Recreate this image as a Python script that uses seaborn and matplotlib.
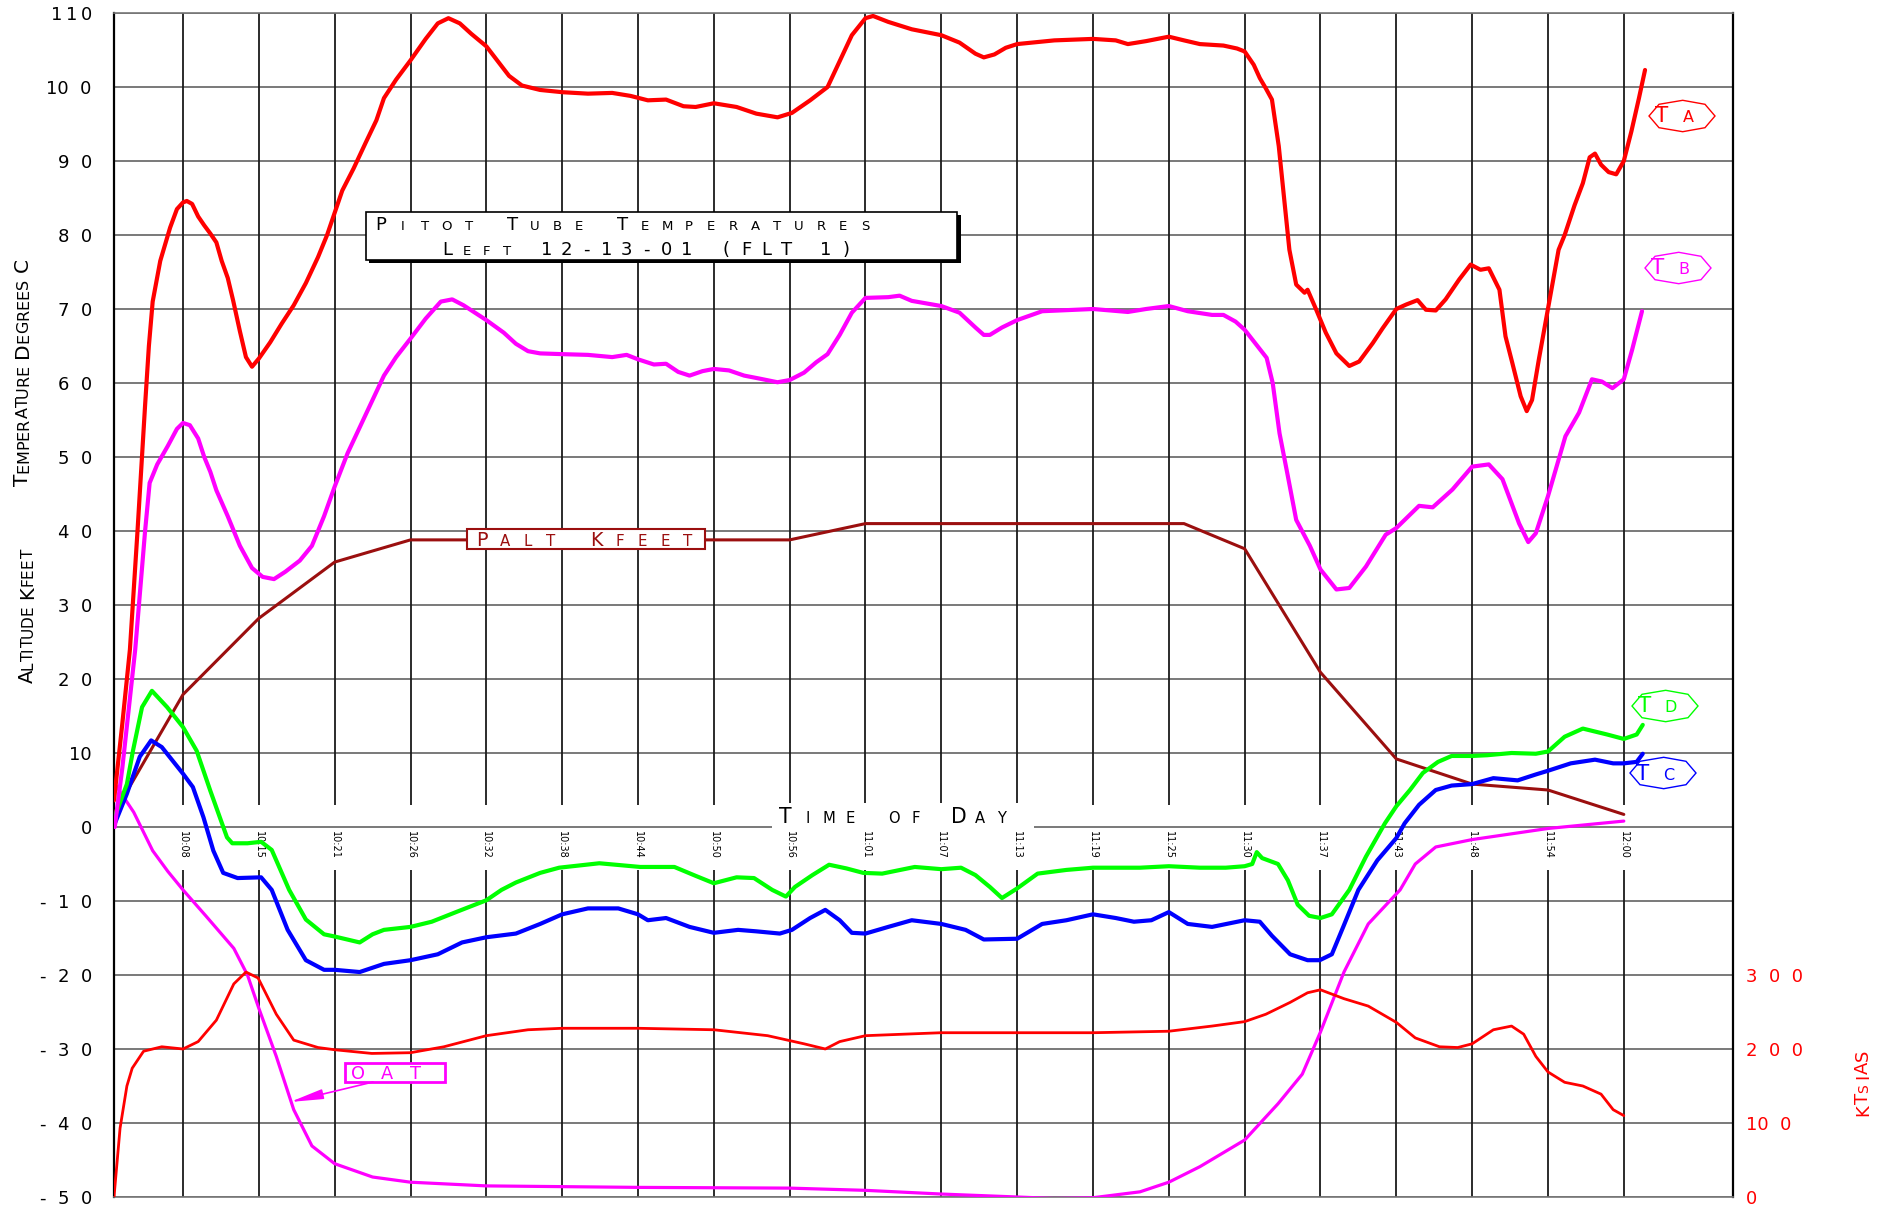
import matplotlib
matplotlib.use("Agg")
import numpy as np
import pandas as pd
import seaborn as sns
import matplotlib.pyplot as plt
from matplotlib.transforms import IdentityTransform
from matplotlib.patches import Rectangle, Polygon, FancyArrowPatch
from matplotlib.font_manager import FontProperties

# ---------------- data ----------------
time_labels = ["10:08", "10:15", "10:21", "10:26", "10:32", "10:38", "10:44", "10:50",
               "10:56", "11:01", "11:07", "11:13", "11:19", "11:25", "11:30", "11:37",
               "11:43", "11:48", "11:54", "12:00"]
time_pos = list(range(1, 21))

y_ticks = list(range(110, -51, -10))
y_tick_labels = ["1\u20091\u20090", "10  0", "9  0", "8  0", "7  0", "6  0", "5  0", "4  0",
                 "3  0", "2  0", "10", "0", "-  1  0", "-  2  0", "-  3  0", "-  4  0", "-  5  0"]
ias_ticks = [0, 100, 200, 300]
ias_tick_labels = ["0", "10  0", "2  0  0", "3  0  0"]

# T A (red)
ta_x = [0.09, 0.20, 0.30, 0.40, 0.50, 0.55, 0.60, 0.70, 0.83, 0.92,
        1.00, 1.05, 1.12, 1.20, 1.28, 1.36, 1.44, 1.51, 1.59, 1.66,
        1.75, 1.83, 1.91, 2.00, 2.15, 2.30, 2.46, 2.62, 2.78, 2.90,
        3.00, 3.10, 3.25, 3.41, 3.55, 3.65, 3.81, 4.00, 4.20, 4.36,
        4.50, 4.65, 4.80, 5.00, 5.15, 5.30, 5.47, 5.71, 6.00, 6.34,
        6.66, 6.90, 7.13, 7.37, 7.60, 7.76, 8.00, 8.30, 8.56, 8.84,
        9.03, 9.27, 9.50, 9.66, 9.82, 10.00, 10.10, 10.30, 10.61, 11.00,
        11.24, 11.45, 11.56, 11.70, 11.85, 12.00, 12.49, 13.00, 13.30, 13.46,
        13.70, 14.00, 14.20, 14.41, 14.72, 14.90, 15.00, 15.12, 15.20, 15.28,
        15.36, 15.45, 15.52, 15.59, 15.68, 15.79, 15.83, 15.94, 16.07, 16.21,
        16.38, 16.51, 16.69, 16.82, 17.00, 17.13, 17.28, 17.39, 17.52, 17.65,
        17.83, 17.98, 18.11, 18.22, 18.36, 18.44, 18.53, 18.64, 18.72, 18.79,
        18.88, 19.00, 19.14, 19.22, 19.35, 19.46, 19.55, 19.62, 19.70, 19.80,
        19.90, 20.00, 20.10, 20.20, 20.28]
ta_y = [3.6, 14, 24, 40, 57, 65, 71, 76.5, 81, 83.5,
        84.4, 84.6, 84.2, 82.5, 81.3, 80.2, 79, 76.5, 74.2, 71.2,
        67, 63.5, 62.2, 63.3, 65.5, 68, 70.5, 73.5, 77, 80,
        83, 86, 89, 92.5, 95.5, 98.5, 101, 103.6, 106.5, 108.6,
        109.3, 108.6, 107.2, 105.5, 103.5, 101.5, 100.2, 99.6, 99.3, 99.1,
        99.2, 98.8, 98.2, 98.3, 97.4, 97.3, 97.8, 97.3, 96.4, 95.9,
        96.5, 98.2, 100, 103.5, 107, 109.3, 109.6, 108.8, 107.8, 107,
        106, 104.5, 104, 104.4, 105.3, 105.8, 106.3, 106.5, 106.3, 105.8,
        106.2, 106.8, 106.3, 105.8, 105.6, 105.2, 104.8, 103, 101.2, 99.8,
        98.3, 92, 85, 78, 73.3, 72.2, 72.6, 70, 66.8, 64,
        62.3, 62.9, 65.4, 67.4, 70, 70.6, 71.2, 69.9, 69.8, 71.3,
        74, 76, 75.3, 75.5, 72.6, 66.3, 62.7, 58.2, 56.2, 57.7,
        63.2, 70, 78, 80, 84, 87, 90.5, 91, 89.5, 88.5,
        88.2, 90, 94, 98.5, 102.3]

# T B (magenta)
tb_x = [0.10, 0.20, 0.37, 0.50, 0.56, 0.66, 0.80, 0.92, 1.00, 1.09,
        1.20, 1.28, 1.36, 1.44, 1.59, 1.75, 1.91, 2.05, 2.20, 2.35,
        2.54, 2.70, 2.86, 3.00, 3.17, 3.33, 3.49, 3.65, 3.81, 4.00,
        4.20, 4.40, 4.55, 4.70, 5.00, 5.23, 5.39, 5.55, 5.71, 6.00,
        6.34, 6.66, 6.85, 7.00, 7.21, 7.37, 7.53, 7.68, 7.85, 8.00,
        8.20, 8.40, 8.60, 8.84, 9.00, 9.19, 9.35, 9.50, 9.66, 9.82,
        10.00, 10.30, 10.45, 10.61, 11.00, 11.24, 11.45, 11.56, 11.64, 11.80,
        12.00, 12.33, 13.00, 13.46, 13.70, 14.00, 14.25, 14.57, 14.72, 14.88,
        15.00, 15.13, 15.29, 15.37, 15.46, 15.57, 15.68, 15.86, 16.00, 16.21,
        16.38, 16.60, 16.86, 17.00, 17.30, 17.48, 17.74, 18.00, 18.22, 18.40,
        18.62, 18.74, 18.84, 19.00, 19.23, 19.41, 19.58, 19.71, 19.85, 20.00,
        20.11, 20.24]
tb_y = [0, 8, 24, 40, 46.5, 49, 51.5, 53.8, 54.6, 54.3,
        52.5, 50, 48, 45.5, 42, 38, 35, 33.8, 33.5, 34.5,
        36, 38, 42, 46, 50.5, 54, 57.5, 61, 63.5, 66,
        68.7, 71, 71.3, 70.5, 68.5, 66.8, 65.3, 64.3, 64.0, 63.9,
        63.8, 63.5, 63.8, 63.2, 62.5, 62.6, 61.5, 61.0, 61.6, 61.9,
        61.7, 61.0, 60.6, 60.1, 60.4, 61.4, 62.8, 63.9, 66.5, 69.5,
        71.5, 71.6, 71.8, 71.1, 70.4, 69.5, 67.5, 66.5, 66.5, 67.5,
        68.5, 69.7, 70.0, 69.6, 70.0, 70.4, 69.7, 69.2, 69.2, 68.3,
        67.2, 65.5, 63.4, 60, 53.2, 47.4, 41.5, 38, 34.8, 32.1,
        32.3, 35.2, 39.5, 40.4, 43.4, 43.2, 45.6, 48.7, 49, 47,
        41, 38.5, 39.7, 44.7, 52.8, 56, 60.5, 60.2, 59.3, 60.5,
        64.5, 69.7]

# T D (green)
td_x = [0.09, 0.26, 0.34, 0.46, 0.59, 0.79, 1.00, 1.18, 1.36, 1.58,
        1.65, 1.85, 2.03, 2.17, 2.40, 2.62, 2.86, 3.00, 3.33, 3.50,
        3.65, 4.00, 4.28, 4.60, 5.00, 5.20, 5.39, 5.71, 5.96, 6.49,
        7.03, 7.48, 7.76, 8.00, 8.30, 8.53, 8.77, 8.95, 9.07, 9.30,
        9.52, 9.75, 9.97, 10.22, 10.65, 11.00, 11.26, 11.45, 11.64, 11.80,
        12.00, 12.27, 12.65, 13.00, 13.62, 14.00, 14.41, 14.75, 15.00, 15.10,
        15.16, 15.23, 15.44, 15.57, 15.70, 15.85, 16.00, 16.15, 16.38, 16.60,
        16.85, 17.00, 17.18, 17.35, 17.55, 17.73, 18.00, 18.20, 18.52, 18.84,
        19.00, 19.22, 19.46, 19.78, 20.00, 20.17, 20.25]
td_y = [1.1, 5.8, 10.3, 16.2, 18.4, 16.2, 13.5, 10.3, 4.9, -1.4,
        -2.2, -2.2, -2.0, -3.1, -8.5, -12.5, -14.5, -14.8, -15.6, -14.5,
        -13.9, -13.5, -12.8, -11.5, -9.9, -8.5, -7.5, -6.2, -5.5, -4.9,
        -5.4, -5.4, -6.6, -7.6, -6.8, -6.9, -8.5, -9.4, -8.1, -6.5,
        -5.1, -5.6, -6.2, -6.3, -5.4, -5.7, -5.5, -6.5, -8.1, -9.6,
        -8.3, -6.3, -5.8, -5.5, -5.5, -5.3, -5.5, -5.5, -5.3, -5.0,
        -3.4, -4.2, -5.0, -7.2, -10.5, -12.0, -12.3, -11.8, -8.5, -4.0,
        0.5, 2.8, 5.0, 7.3, 8.8, 9.6, 9.6, 9.7, 10.0, 9.9,
        10.2, 12.2, 13.3, 12.5, 11.9, 12.5, 13.8]

# T C (blue)
tc_x = [0.09, 0.26, 0.43, 0.58, 0.72, 1.00, 1.13, 1.27, 1.40, 1.53,
        1.72, 2.03, 2.17, 2.38, 2.62, 2.86, 3.00, 3.33, 3.65, 4.00,
        4.36, 4.68, 5.00, 5.39, 5.71, 6.00, 6.34, 6.74, 7.00, 7.13,
        7.37, 7.68, 8.00, 8.32, 8.56, 8.87, 9.03, 9.27, 9.47, 9.66,
        9.82, 10.00, 10.30, 10.61, 11.00, 11.32, 11.56, 12.00, 12.33, 12.65,
        13.00, 13.30, 13.54, 13.77, 14.00, 14.25, 14.57, 15.00, 15.20, 15.36,
        15.60, 15.83, 15.99, 16.15, 16.30, 16.50, 16.75, 17.00, 17.11, 17.30,
        17.52, 17.73, 18.00, 18.28, 18.60, 18.84, 19.00, 19.30, 19.62, 19.86,
        20.00, 20.17, 20.25]
tc_y = [0.2, 4.5, 9.5, 11.7, 10.8, 7.2, 5.4, 1.3, -3.2, -6.2,
        -6.9, -6.8, -8.5, -13.9, -18.0, -19.3, -19.3, -19.6, -18.5, -18.0,
        -17.2, -15.6, -14.9, -14.4, -13.1, -11.8, -11.0, -11.0, -11.8, -12.6,
        -12.3, -13.5, -14.3, -13.9, -14.1, -14.4, -13.9, -12.3, -11.2, -12.6,
        -14.3, -14.4, -13.5, -12.6, -13.1, -13.9, -15.2, -15.1, -13.1, -12.6,
        -11.8, -12.3, -12.8, -12.6, -11.5, -13.1, -13.5, -12.6, -12.8, -14.7,
        -17.2, -18.0, -18.0, -17.2, -13.5, -8.5, -4.5, -1.5, 0.5, 3.0,
        5.0, 5.6, 5.8, 6.6, 6.3, 7.1, 7.6, 8.6, 9.1, 8.6,
        8.6, 8.8, 9.9]

# Pressure altitude (kfeet)
palt_x = [0.09, 1, 2, 3, 4, 9, 10, 14.2, 15, 16, 17, 18, 19, 20]
palt_y = [1.8, 17.9, 28.2, 35.8, 38.8, 38.8, 41.0, 41.0, 37.6, 20.9, 9.2, 5.8, 5.0, 1.7]

# Outside air temperature
oat_x = [0.09, 0.35, 0.6, 0.8, 1.0, 1.3, 1.67, 1.85, 2.0, 2.23,
         2.46, 2.70, 3.0, 3.5, 4.0, 5.0, 7.0, 9.0, 10.0, 11.0,
         12.0, 12.49, 13.0, 13.62, 14.0, 14.41, 15.0, 15.44, 15.76, 16.0,
         16.31, 16.63, 17.05, 17.25, 17.52, 18.0, 19.0, 20.0]
oat_y = [6, 2, -3.2, -6, -8.5, -12, -16.4, -20, -24.5, -31,
         -38.2, -43.1, -45.5, -47.3, -48, -48.5, -48.7, -48.8, -49.1, -49.6,
         -50.0, -50.2, -50.1, -49.3, -48, -45.9, -42.3, -37.4, -33.4, -27.7,
         -19.6, -13.1, -8.5, -5, -2.7, -1.7, -0.2, 0.8]

# Indicated air speed (knots, right axis)
ias_x = [0.09, 0.17, 0.26, 0.33, 0.48, 0.72, 1.00, 1.20, 1.44, 1.67,
         1.83, 1.99, 2.23, 2.46, 2.78, 3.00, 3.49, 4.00, 4.44, 5.00,
         5.55, 6.00, 7.00, 8.00, 8.71, 9.19, 9.47, 9.66, 10.00, 11.00,
         12.00, 13.00, 14.00, 14.57, 15.00, 15.28, 15.60, 15.83, 16.00, 16.31,
         16.63, 17.00, 17.25, 17.57, 17.81, 18.00, 18.28, 18.52, 18.68, 18.84,
         19.00, 19.22, 19.46, 19.70, 19.86, 20.00]
ias_v = [0, 93, 150, 174, 197, 203, 200, 210, 239, 288,
         304, 296, 247, 212, 202, 199, 194, 195, 203, 218,
         226, 228, 228, 226, 218, 207, 200, 210, 218, 222,
         222, 222, 224, 231, 237, 247, 263, 276, 280, 268,
         258, 236, 215, 203, 202, 207, 226, 231, 220, 190,
         169, 155, 150, 139, 118, 110]

# ---------------- style ----------------
RED, MAG, GRN, BLU, BRN = "#ff0000", "#ff00ff", "#00ff00", "#0000ff", "#9b0f0f"

sns.set_theme(style="white")
plt.rcParams["font.family"] = ["DejaVu Sans"]
FAM = "DejaVu Sans"

W, H = 1878, 1206
fig = plt.figure(figsize=(W / 100, H / 100), dpi=100)
fig.patch.set_facecolor("white")
L, R, T, B = 114, 1733, 13, 1197
ax = fig.add_axes([L / W, (H - B) / H, (R - L) / W, (B - T) / H])
X0, X1 = 0.09, 21.44

# grid
ax.hlines(y_ticks, X0, X1, colors="#555555", lw=1.1, zorder=1)
ax.vlines(time_pos, 3, 110, colors="#1a1a1a", lw=1.3, zorder=1)
ax.vlines(time_pos, -50, -5.8, colors="#1a1a1a", lw=1.3, zorder=1)

series = [
    (oat_x, oat_y, MAG, 2.3),
    (palt_x, palt_y, BRN, 2.2),
    (tc_x, tc_y, BLU, 3.0),
    (td_x, td_y, GRN, 3.0),
    (tb_x, tb_y, MAG, 3.0),
    (ta_x, ta_y, RED, 3.0),
]
for xs, ys, c, lw in series:
    sns.lineplot(x=xs, y=ys, ax=ax, color=c, linewidth=lw, sort=False,
                 estimator=None, zorder=3)

ax.set_xlim(X0, X1)
ax.set_ylim(-50, 110)
ax.set_xlabel("")
ax.set_ylabel("")
ax.set_xticks([])
ax.set_yticks(y_ticks, y_tick_labels)
ax.tick_params(axis="y", length=0, pad=16, labelsize=13, labelcolor="black")
for s in ["left", "right"]:
    ax.spines[s].set(color="black", lw=1.6)
for s in ["top", "bottom"]:
    ax.spines[s].set(color="#777777", lw=1.2)

# time-of-day labels along the zero line
sec = ax.secondary_xaxis(50 / 160)
sec.set_xticks(time_pos, time_labels)
sec.tick_params(length=0, pad=3, labelsize=7, labelrotation=270, labelcolor="black")
for s in sec.spines.values():
    s.set_visible(False)

# IAS on right axis
ax2 = ax.twinx()
sns.lineplot(x=ias_x, y=ias_v, ax=ax2, color=RED, linewidth=2.0, sort=False, estimator=None)
ax2.set_ylim(0, 1600)
ax2.set_xlim(X0, X1)
ax2.set_yticks(ias_ticks, ias_tick_labels)
ax2.tick_params(axis="y", length=0, pad=9, labelsize=13, labelcolor=RED)
ax2.set_ylabel("")
ax2.grid(False)
for s in ax2.spines.values():
    s.set_visible(False)

# ---------------- annotation helpers (pixel coordinates, y from top) ----------------
rend = fig.canvas.get_renderer()
IDT = IdentityTransform()


def adv(ch, sz):
    fp = FontProperties(family=FAM, size=sz)
    a = rend.get_text_width_height_descent("|" + ch + "|", fp, ismath=False)[0]
    b = rend.get_text_width_height_descent("||", fp, ismath=False)[0]
    return a - b


def sc_chars(text, big, small):
    return [(c.upper(), small if c.islower() else big) for c in text]


def draw_chars(chars, x, y, color, step=None, rot=0, align="left", z=6):
    widths = [step if step else adv(c, s) for c, s in chars]
    total = sum(widths)
    pos = {"left": 0.0, "center": -total / 2, "right": -total}[align]
    for (c, s), w in zip(chars, widths):
        mid = pos + w / 2
        pos += w
        if c == " ":
            continue
        if rot == 0:
            px_, py_ = x + mid, y
        else:
            px_, py_ = x, y - mid
        fig.text(px_, H - py_, c, fontsize=s, color=color, ha="center", va="baseline",
                 rotation=rot, rotation_mode="anchor", transform=IDT, zorder=z)


def rect_px(x0, y0, x1, y1, **kw):
    fig.add_artist(Rectangle((x0, H - y1), x1 - x0, y1 - y0, transform=IDT, **kw))


hex_shape = [(-33, 0), (-23, -11.7), (0.7, -15.7), (23, -11.7), (33, 0),
             (23, 11.7), (0.7, 15.7), (-23, 11.7)]


def hex_label(cx, cy, letter, color):
    pts = [(cx + dx, H - (cy + dy)) for dx, dy in hex_shape]
    fig.add_artist(Polygon(pts, closed=True, transform=IDT, facecolor="white",
                           edgecolor=color, lw=1.0, zorder=5))
    fig.text(cx - 20, H - (cy + 6.5), "T", fontsize=15.5, color=color, ha="center",
             va="baseline", transform=IDT, zorder=6)
    fig.text(cx + 6, H - (cy + 6.5), letter, fontsize=11.5, color=color, ha="center",
             va="baseline", transform=IDT, zorder=6)


# title box with shadow
rect_px(369, 215, 961, 263, facecolor="black", lw=0, zorder=4)
rect_px(366, 212, 957, 260, facecolor="white", edgecolor="black", lw=1.2, zorder=4.5)
draw_chars(sc_chars("Pitot Tube Temperatures", 13, 9.5), 370, 230, "black", step=22)
draw_chars(sc_chars("Left 12-13-01 (FLT 1)", 13, 9.5), 437, 255, "black", step=19.95)

# PALT label
rect_px(467, 529, 705, 549, facecolor="white", edgecolor=BRN, lw=1.5, zorder=5)
draw_chars(sc_chars("Palt Kfeet", 13.8, 10.8), 470.5, 546, BRN, step=22.9)

# Time of day label
rect_px(772, 803, 1034, 830, facecolor="white", lw=0, zorder=4.6)
draw_chars(sc_chars("Time of Day", 14.8, 10.6), 775, 823, "black", step=21.6)

# OAT label with arrow
rect_px(345, 1063, 445, 1082, facecolor="white", edgecolor=MAG, lw=2.0, zorder=5)
draw_chars([("O", 12.8), ("A", 12.8), ("T", 12.8)], 343.75, 1079, MAG, step=28.5)
fig.add_artist(FancyArrowPatch((373, H - 1082), (290, H - 1102),
                               arrowstyle="-|>,head_length=2.0,head_width=0.3",
                               mutation_scale=10, color=MAG, lw=1.2, transform=IDT,
                               shrinkA=0, shrinkB=0, zorder=5))

# series labels
hex_label(1682, 116, "A", RED)
hex_label(1678, 268, "B", MAG)
hex_label(1665, 706, "D", GRN)
hex_label(1663, 773, "C", BLU)

# axis titles
draw_chars(sc_chars("Temperature Degrees C", 14.5, 11.5), 28, 372, "black", rot=90, align="center")
draw_chars(sc_chars("Altitude Kfeet", 14, 11), 33, 616, "black", rot=90, align="center")
draw_chars(sc_chars("KTs IAS", 13, 10), 1868, 1083, RED, rot=90, align="center")

fig.savefig("out.png", dpi=100, facecolor="white")
